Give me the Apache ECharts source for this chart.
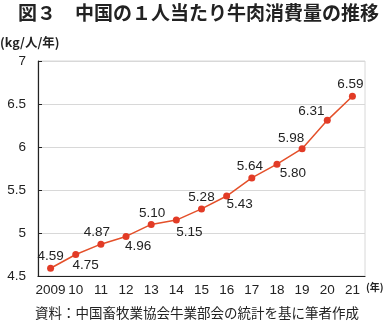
<!DOCTYPE html>
<html>
<head>
<meta charset="utf-8">
<script src="https://cdn.jsdelivr.net/npm/echarts@6/dist/echarts.min.js"></script>
<style>
html,body{margin:0;padding:0;background:#fff;}
#c{width:387px;height:322px;}
</style>
</head>
<body>
<div id="c"></div>
<script>
const title = '図３　中国の１人当たり牛肉消費量の推移';
const unitLabel = '(kg/人/年)';
const yearUnit = '(年)';
const source = '資料：中国畜牧業協会牛業部会の統計を基に筆者作成';
const years = ['2009','10','11','12','13','14','15','16','17','18','19','20','21'];
const consumption = [4.59, 4.75, 4.87, 4.96, 5.10, 5.15, 5.28, 5.43, 5.64, 5.80, 5.98, 6.31, 6.59];
const yTicks = [4.5, 5, 5.5, 6, 6.5, 7];

// label offsets (styling only)
const labelOffsets = [[0,-12],[10,11],[-4,-12],[12,10],[1,-11],[13,12],[0,-12],[13,8],[-2,-12],[16,9],[-11,-10],[-16,-9],[-2,-12]];

const chart = echarts.init(document.getElementById('c'));
const FONT = '"Liberation Sans", Arial, sans-serif';
const CJK = '"Noto Sans CJK JP", sans-serif';

chart.setOption({
  animation: false,
  backgroundColor: '#fff',
  graphic: [
    {type:'text', left: 18, top: 3, style:{text: title, font: 'bold 19px ' + CJK, fill:'#222'}},
    {type:'text', left: 0, top: 36, style:{text: unitLabel, font: 'bold 12.5px ' + CJK, fill:'#222'}},
    {type:'text', left: 366, top: 282, style:{text: yearUnit, font: 'bold 10px ' + CJK, fill:'#222'}},
    {type:'text', left: 35, top: 306, style:{text: source, font: '13.5px ' + CJK, fill:'#222'}}
  ],
  grid: {left: 38, right: 22, top: 61, bottom: 46, show: true, borderColor: '#d8d8d8', borderWidth: 1},
  xAxis: {
    type: 'category',
    data: years,
    boundaryGap: true,
    axisLine: {lineStyle: {color: '#222', width: 1.2}},
    axisTick: {inside: true, length: 5, lineStyle: {color: '#222'}},
    axisLabel: {interval: 0, color: '#222', fontSize: 13.5, fontFamily: FONT, margin: 7}
  },
  yAxis: {
    type: 'value',
    min: yTicks[0],
    max: yTicks[yTicks.length-1],
    interval: 0.5,
    axisLine: {show: true, lineStyle: {color: '#222', width: 1.2}},
    axisTick: {show: true, inside: true, length: 4, lineStyle: {color: '#222'}},
    splitLine: {lineStyle: {color: '#d8d8d8'}},
    axisLabel: {color: '#222', fontSize: 13.5, fontFamily: FONT, margin: 12}
  },
  series: [{
    type: 'line',
    data: consumption.map((v, i) => ({
      value: v,
      label: {offset: labelOffsets[i]}
    })),
    symbol: 'circle',
    symbolSize: 7,
    lineStyle: {color: '#e4502a', width: 1.5},
    itemStyle: {color: '#e23b26'},
    label: {
      show: true,
      position: 'inside',
      align: 'center',
      verticalAlign: 'middle',
      formatter: p => p.value.toFixed(2),
      color: '#222',
      fontSize: 13.5,
      fontFamily: FONT
    }
  }]
});
</script>
</body>
</html>
